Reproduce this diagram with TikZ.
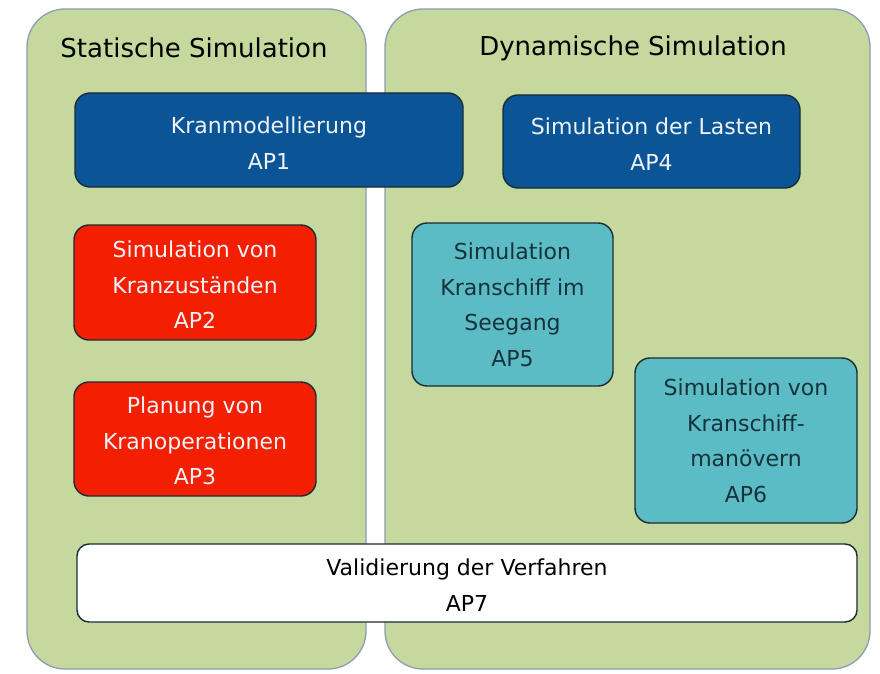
\documentclass[tikz,border=0pt]{standalone}
\usepackage{fontspec}
\setmainfont{DejaVu Sans}
\definecolor{panelgreen}{HTML}{C5D89E}
\definecolor{panelline}{HTML}{8E9CB2}
\definecolor{apblue}{HTML}{0B5596}
\definecolor{apred}{HTML}{F41E00}
\definecolor{apteal}{HTML}{5BBCC5}
\definecolor{boxline}{HTML}{1B2B33}
\definecolor{lighttext}{HTML}{EEF3F8}
\definecolor{darktext}{HTML}{18323C}
\begin{document}
\begin{tikzpicture}[x=1pt,y=-1pt,
  panel/.style={draw=panelline, line width=1.3pt, fill=panelgreen, rounded corners=38pt},
  apbox/.style={draw=boxline, line width=1.4pt, rounded corners=15pt},
  aptext/.style={align=center, font=\fontsize{22}{35.5}\selectfont, inner sep=0pt},
  title/.style={font=\fontsize{26}{30}\selectfont, text=black, inner sep=0pt}]
\useasboundingbox (0,0) rectangle (880,674);
\fill[white] (0,0) rectangle (880,674);
% panels
\draw[panel] (27,9) rectangle (366,669);
\draw[panel] (385,9) rectangle (870,669);
\node[title] (t1) at (194,48) {Statische Simulation};
\node[title] (t2) at (633,48) {Dynamische Simulation};
% boxes
\draw[apbox, fill=apblue] (75,93) rectangle (463,187);
\node[aptext, text=lighttext] (ap1) at (269,143) {Kranmodellierung\\AP1};
\draw[apbox, fill=apblue] (503,95) rectangle (800,188);
\node[aptext, text=lighttext] (ap4) at (651.5,144) {Simulation der Lasten\\AP4};
\draw[apbox, fill=apred] (74,225) rectangle (316,340);
\node[aptext, text=lighttext] (ap2) at (195,285) {Simulation von\\Kranzuständen\\AP2};
\draw[apbox, fill=apred] (74,382) rectangle (316,496);
\node[aptext, text=lighttext] (ap3) at (195,441) {Planung von\\Kranoperationen\\AP3};
\draw[apbox, fill=apteal] (412,223) rectangle (613,386);
\node[aptext, text=darktext] (ap5) at (512.5,305) {Simulation\\Kranschiff im\\Seegang\\AP5};
\draw[apbox, fill=apteal] (635,358) rectangle (857,523);
\node[aptext, text=darktext] (ap6) at (746,441) {Simulation von\\Kranschiff-\\manövern\\AP6};
\draw[apbox, fill=white, rounded corners=12pt] (77,544) rectangle (857,622);
\node[aptext, text=black] (ap7) at (467,585) {Validierung der Verfahren\\AP7};
\end{tikzpicture}
\end{document}
